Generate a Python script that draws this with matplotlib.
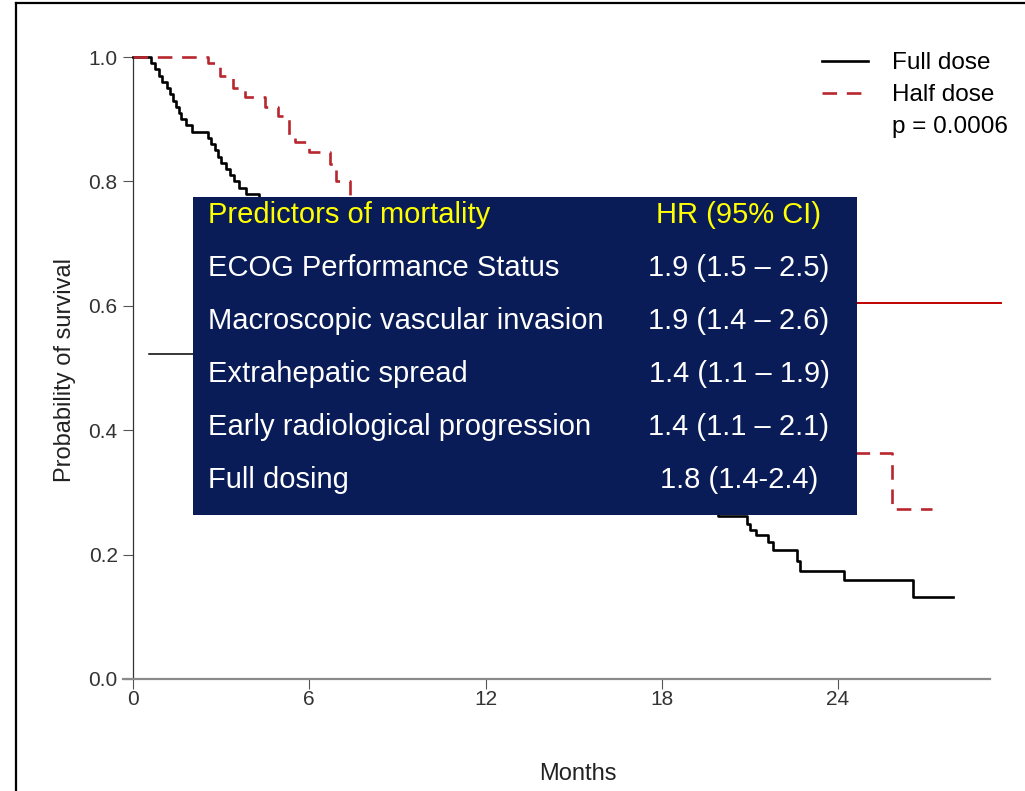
import matplotlib
matplotlib.use("Agg")
import matplotlib.pyplot as plt
from matplotlib.lines import Line2D
from matplotlib.patches import Rectangle

# Kaplan-Meier steps (months, survival after the event)
full_t = [0, 0.6, 0.75, 0.9, 1.0, 1.15, 1.25, 1.35, 1.45, 1.55, 1.65, 1.8, 2.0,
          2.55, 2.65, 2.8, 2.9, 3.0, 3.15, 3.3, 3.45, 3.6, 3.85, 4.3, 5.0, 6.0,
          7.0, 8.0, 9.0, 10.0, 11.0, 12.0, 13.0, 14.0, 15.0, 16.0, 17.0, 18.0,
          19.0, 19.9, 20.9, 21.0, 21.2, 21.6, 21.8, 22.6, 22.7, 24.2, 26.55, 27.9]
full_s = [1.0, 0.99, 0.98, 0.97, 0.96, 0.95, 0.94, 0.93, 0.92, 0.91, 0.90, 0.89, 0.88,
          0.87, 0.86, 0.85, 0.84, 0.83, 0.82, 0.81, 0.80, 0.79, 0.78, 0.77, 0.74, 0.68,
          0.62, 0.57, 0.52, 0.48, 0.45, 0.42, 0.39, 0.36, 0.34, 0.32, 0.30, 0.285,
          0.275, 0.262, 0.25, 0.24, 0.232, 0.22, 0.207, 0.19, 0.174, 0.159, 0.132, 0.132]

half_t = [0, 2.55, 2.95, 3.4, 3.8, 4.5, 4.95, 5.3, 5.5, 6.0, 6.7, 6.9, 7.4, 8.0, 9.0,
          10.0, 11.0, 12.0, 13.0, 14.0, 15.0, 16.0, 17.0, 18.0, 19.0, 20.0, 21.0,
          22.5, 25.85, 27.2]
half_s = [1.0, 0.99, 0.97, 0.95, 0.935, 0.92, 0.905, 0.875, 0.863, 0.847, 0.828, 0.80,
          0.77, 0.76, 0.72, 0.68, 0.64, 0.61, 0.57, 0.54, 0.51, 0.48, 0.45, 0.43, 0.41,
          0.39, 0.375, 0.364, 0.274, 0.274]

series_names = ["Full dose", "Half dose"]
p_text = "p = 0.0006"

x_ticks = [0, 6, 12, 18, 24]
y_ticks = [0.0, 0.2, 0.4, 0.6, 0.8, 1.0]

predictors = ["ECOG Performance Status", "Macroscopic vascular invasion",
              "Extrahepatic spread", "Early radiological progression", "Full dosing"]
hazard_ratios = ["1.9 (1.5 \u2013 2.5)", "1.9 (1.4 \u2013 2.6)", "1.4 (1.1 \u2013 1.9)",
                 "1.4 (1.1 \u2013 2.1)", "1.8 (1.4-2.4)"]

W, H = 1025, 791
plt.rcParams['font.family'] = ['Liberation Sans', 'DejaVu Sans']
plt.rcParams['lines.scale_dashes'] = False

fig = plt.figure(figsize=(W / 100, H / 100), dpi=100)
fig.patch.set_facecolor('white')


def fx(px):
    return px / W


def fy(py):
    return 1 - py / H


# axes placed so that 0 months sits at x=133 px and survival 0..1 at y=679..57 px
ax = fig.add_axes([fx(123), fy(679), fx(990) - fx(123), fy(44.6) - fy(679)])
ax.set_xlim(-10 / 29.375, 857 / 29.375)
ax.set_ylim(0, 1.02)

red = '#B8262E'
l_full, = ax.step(full_t, full_s, where='post', color='black', lw=1.9, zorder=3)
l_half, = ax.step(half_t, half_s, where='post', color=red, lw=1.9,
                  dashes=(10.5, 7), zorder=3)

for side in ['top', 'right']:
    ax.spines[side].set_visible(False)
ax.spines['left'].set_position(('data', 0))
ax.spines['left'].set_bounds(0, 1)
ax.spines['left'].set_color('#333333')
ax.spines['left'].set_linewidth(0.9)
ax.spines['bottom'].set_color('#8a8a8a')
ax.spines['bottom'].set_linewidth(1.6)

ax.set_xticks(x_ticks)
ax.set_xticklabels([str(v) for v in x_ticks])
ax.set_yticks(y_ticks)
ax.set_yticklabels([f"{v:.1f}" for v in y_ticks])
ax.tick_params(axis='y', direction='out', length=7, width=0.8, color='#555555',
               pad=4, labelsize=15, labelcolor='#333333')
ax.tick_params(axis='x', direction='out', length=7, width=0.8, color='#555555',
               pad=1, labelsize=15, labelcolor='#333333')

ax.set_ylabel("Probability of survival", fontsize=17, color='#222222', va='center')
ax.yaxis.set_label_coords(-0.067, 0.487)
ax.set_xlabel("Months", fontsize=17, color='#222222', va='center')
ax.xaxis.set_label_coords(0.525, -0.149)

blank = Line2D([], [], color='none')
ax.legend([l_full, l_half, blank], series_names + [p_text], loc='upper left',
          bbox_to_anchor=(fx(822), fy(52)), bbox_transform=fig.transFigure,
          frameon=False, fontsize=17.5, handlelength=1.9, handletextpad=1.0,
          labelspacing=0.42, borderpad=0, borderaxespad=0)

# navy table box laid over the plot
fig.patches.append(Rectangle((fx(193), fy(515)), fx(857) - fx(193), fy(197) - fy(515),
                             transform=fig.transFigure, facecolor='#0A1C57',
                             edgecolor='none', zorder=5))
rows_y = [215, 268, 321, 374, 427, 480]
fs_box = 21
fig.text(fx(208), fy(rows_y[0]), "Predictors of mortality", color='#FFFF00',
         fontsize=fs_box, va='center', ha='left', zorder=6)
fig.text(fx(738), fy(rows_y[0]), "HR (95% CI)", color='#FFFF00',
         fontsize=fs_box, va='center', ha='center', zorder=6)
for yy, name, hr in zip(rows_y[1:], predictors, hazard_ratios):
    fig.text(fx(208), fy(yy), name, color='white', fontsize=fs_box,
             va='center', ha='left', zorder=6)
    fig.text(fx(739), fy(yy), hr, color='white', fontsize=fs_box,
             va='center', ha='center', zorder=6)

# leftover pointer lines and slide frame
fig.add_artist(Line2D([fx(149), fx(193)], [fy(354), fy(354)], color='black', lw=1.1))
fig.add_artist(Line2D([fx(857), fx(1001)], [fy(303), fy(303)], color='#C00000', lw=1.4))
fig.add_artist(Line2D([fx(16), fx(16)], [fy(3), 0], color='black', lw=1.6))
fig.add_artist(Line2D([fx(16), 1], [fy(3), fy(3)], color='black', lw=1.6))

fig.savefig("out.png", dpi=100)
